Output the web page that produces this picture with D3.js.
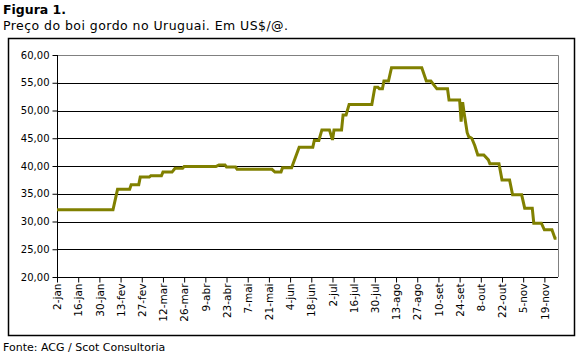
<!DOCTYPE html>
<html>
<head>
<meta charset="utf-8">
<script src="https://cdn.jsdelivr.net/npm/d3@7/dist/d3.min.js"></script>
<style>
  html, body { margin: 0; padding: 0; background: #fff; }
  svg { display: block; font-family: "DejaVu Sans", Verdana, sans-serif; }
</style>
</head>
<body>
<svg id="chart" width="580" height="361"></svg>
<script>
// ---- data ----
const dates = [
  "2008-01-02","2008-02-08","2008-02-11","2008-02-19","2008-02-20","2008-02-25","2008-02-26",
  "2008-03-03","2008-03-04","2008-03-11","2008-03-12","2008-03-18","2008-03-20","2008-03-25",
  "2008-03-26","2008-04-16","2008-04-18","2008-04-22","2008-04-23","2008-04-29","2008-04-30",
  "2008-05-23","2008-05-25","2008-05-29","2008-05-30","2008-06-05","2008-06-10","2008-06-19",
  "2008-06-20","2008-06-23","2008-06-25","2008-06-30","2008-07-02","2008-07-03","2008-07-08",
  "2008-07-09","2008-07-11","2008-07-13","2008-07-28","2008-07-30","2008-08-01","2008-08-02",
  "2008-08-04","2008-08-05","2008-08-08","2008-08-10","2008-08-30","2008-09-02","2008-09-05",
  "2008-09-09","2008-09-16","2008-09-17","2008-09-24","2008-09-25","2008-09-26","2008-09-27",
  "2008-09-29","2008-09-30","2008-10-02","2008-10-04","2008-10-06","2008-10-10","2008-10-13",
  "2008-10-14","2008-10-20","2008-10-22","2008-10-27","2008-10-29","2008-11-04","2008-11-06",
  "2008-11-11","2008-11-12","2008-11-17","2008-11-19","2008-11-24","2008-11-26","2008-11-27"
];
const prices = [
  32.1, 32.1, 35.8, 35.8, 36.6, 36.6, 38.0,
  38.0, 38.25, 38.25, 38.9, 38.9, 39.6, 39.6,
  39.9, 39.9, 40.2, 40.2, 39.8, 39.8, 39.4,
  39.4, 38.9, 38.9, 39.7, 39.7, 43.4, 43.4,
  44.6, 44.6, 46.5, 46.5, 44.7, 46.5, 46.5,
  49.2, 49.2, 51.1, 51.1, 54.2, 54.2, 53.9,
  53.9, 55.3, 55.3, 57.7, 57.7, 55.3, 55.3,
  53.9, 53.9, 51.9, 51.9, 48.0, 51.5, 49.5,
  46.0, 45.3, 45.0, 43.7, 42.0, 42.0, 41.1,
  40.4, 40.4, 37.5, 37.5, 34.8, 34.8, 32.4,
  32.4, 29.7, 29.7, 28.5, 28.5, 27.0, 27.0
];
const tickDates = [
  "2008-01-02","2008-01-16","2008-01-30","2008-02-13","2008-02-27","2008-03-12","2008-03-26",
  "2008-04-09","2008-04-23","2008-05-07","2008-05-21","2008-06-04","2008-06-18","2008-07-02",
  "2008-07-16","2008-07-30","2008-08-13","2008-08-27","2008-09-10","2008-09-24","2008-10-08",
  "2008-10-22","2008-11-05","2008-11-19"
];
const monthNames = ["jan","fev","mar","abr","mai","jun","jul","ago","set","out","nov","dez"];
const yTicks = [20, 25, 30, 35, 40, 45, 50, 55, 60];
const xDomain = ["2008-01-02", "2008-11-28"];
const yDomain = [20, 60];

// ---- layout ----
const svg = d3.select("#chart");
const parse = d3.utcParse("%Y-%m-%d");
const mLeft = 57, mRight = 558, mTop = 55, mBottom = 277;

const x = d3.scaleUtc().domain(xDomain.map(parse)).range([mLeft, mRight]);
const y = d3.scaleLinear().domain(yDomain).range([mBottom, mTop]);

// outer frame
svg.append("rect").attr("x", 8.5).attr("y", 38.5).attr("width", 566).attr("height", 297)
  .attr("fill", "none").attr("stroke", "#000").attr("stroke-width", 1.5);

// titles
svg.append("text").attr("x", 3).attr("y", 14).attr("font-size", 12.5).attr("font-weight", "bold")
  .attr("fill", "#000").text("Figura 1.");
svg.append("text").attr("x", 3).attr("y", 30).attr("font-size", 12.5)
  .attr("letter-spacing", 0.45)
  .attr("fill", "#000").text("Preço do boi gordo no Uruguai. Em US$/@.");
svg.append("text").attr("x", 3).attr("y", 351).attr("font-size", 11)
  .attr("fill", "#000").text("Fonte: ACG / Scot Consultoria");

// plot border (top / right in gray)
svg.append("path")
  .attr("d", `M${mLeft},${mTop + 0.5}H${mRight + 0.5}V${mBottom}`)
  .attr("fill", "none").attr("stroke", "#808080").attr("stroke-width", 1);

// gridlines
svg.append("g").selectAll("line")
  .data(yTicks.filter(v => v > yDomain[0] && v < yDomain[1]))
  .join("line")
  .attr("x1", mLeft).attr("x2", mRight)
  .attr("y1", d => Math.round(y(d)) + 0.5).attr("y2", d => Math.round(y(d)) + 0.5)
  .attr("stroke", "#000").attr("stroke-width", 1);

// y axis
const yAxis = svg.append("g").attr("transform", `translate(${mLeft + 0.5},0)`)
  .call(d3.axisLeft(y).tickValues(yTicks).tickSize(5).tickPadding(3)
    .tickFormat(d => d3.format(".2f")(d).replace(".", ",")));
yAxis.selectAll("text").attr("font-size", 10).attr("fill", "#000")
  .attr("font-family", "DejaVu Sans, Verdana, sans-serif");
yAxis.selectAll("line, path").attr("stroke", "#000");
yAxis.select(".domain").attr("d", `M0,${mTop}V${mBottom + 0.5}`);

// x axis
const xAxis = svg.append("g").attr("transform", `translate(0,${mBottom + 0.5})`)
  .call(d3.axisBottom(x).tickValues(tickDates.map(parse)).tickSize(5).tickSizeOuter(0)
    .tickFormat(d => `${d.getUTCDate()}-${monthNames[d.getUTCMonth()]}`));
xAxis.selectAll("line, path").attr("stroke", "#000");
xAxis.select(".domain").attr("d", `M${mLeft},0H${mRight}`);
xAxis.selectAll("text")
  .attr("font-size", 10.5).attr("fill", "#000")
  .attr("font-family", "DejaVu Sans, Verdana, sans-serif")
  .attr("text-anchor", "end")
  .attr("transform", "rotate(-90)")
  .attr("x", -6).attr("y", 0).attr("dy", "0.35em");

// price line
const line = d3.line()
  .x((d, i) => x(parse(dates[i])))
  .y((d) => y(d));
svg.append("path")
  .datum(prices)
  .attr("d", line)
  .attr("fill", "none")
  .attr("stroke", "#808000")
  .attr("stroke-width", 3)
  .attr("stroke-linejoin", "miter");
</script>
</body>
</html>
